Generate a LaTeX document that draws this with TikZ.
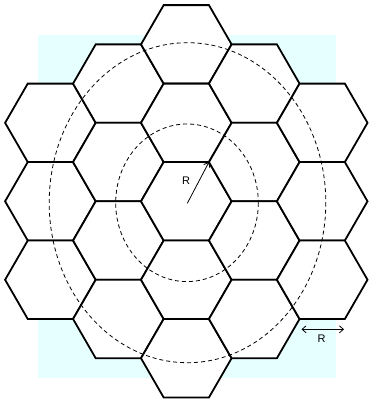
\documentclass[tikz,border=0pt]{standalone}
\usepackage{fontspec}
\setmainfont{Liberation Sans}
\usetikzlibrary{arrows.meta}
\definecolor{bgcyan}{RGB}{230,255,255}
\begin{document}
\begin{tikzpicture}[x=1pt,y=-1pt,
  hexline/.style={line width=1.8pt,line join=miter,fill=white},
  dashcirc/.style={line width=0.8pt,dash pattern=on 4pt off 3pt},
  arr/.style={line width=0.8pt,-{Straight Barb[length=4pt,width=7pt]}},
  darr/.style={line width=0.8pt,{Straight Barb[length=4pt,width=7pt]}-{Straight Barb[length=4pt,width=7pt]}},
  lbl/.style={font=\fontsize{11}{13}\selectfont,inner sep=0pt}]
\useasboundingbox (0,0) rectangle (368,401);
\fill[bgcyan] (38.3,35) rectangle (335.7,377.7);
\pgfmathsetmacro{\s}{45.3}
\pgfmathsetmacro{\h}{39.23}
\foreach \q in {-2,...,2}{
  \foreach \r in {-2,...,2}{
    \pgfmathtruncatemacro{\t}{abs(\q+\r)}
    \ifnum\t<3
      \pgfmathsetmacro{\cx}{186.3+1.5*\s*\q}
      \pgfmathsetmacro{\cy}{201.3+2*\h*(\r+\q/2)}
      \draw[hexline] (\cx+\s,\cy) -- (\cx+\s/2,\cy+\h) -- (\cx-\s/2,\cy+\h) -- (\cx-\s,\cy) -- (\cx-\s/2,\cy-\h) -- (\cx+\s/2,\cy-\h) -- cycle;
    \fi
  }
}
\draw[dashcirc] (187,202.8) ellipse [x radius=71.3, y radius=78.8];
\draw[dashcirc] (187.5,202.7) ellipse [x radius=138.3, y radius=160];
\coordinate (c) at (187.3,203.3);
\coordinate (v) at (208.95,162.1);
\draw[arr] (c) -- (v);
\node[lbl] (r1) at (186,181) {R};
\coordinate (a1) at (301.5,329.3);
\coordinate (a2) at (344,329.3);
\draw[darr] (a1) -- (a2);
\node[lbl] (r2) at (321.7,338.5) {R};
\end{tikzpicture}
\end{document}
